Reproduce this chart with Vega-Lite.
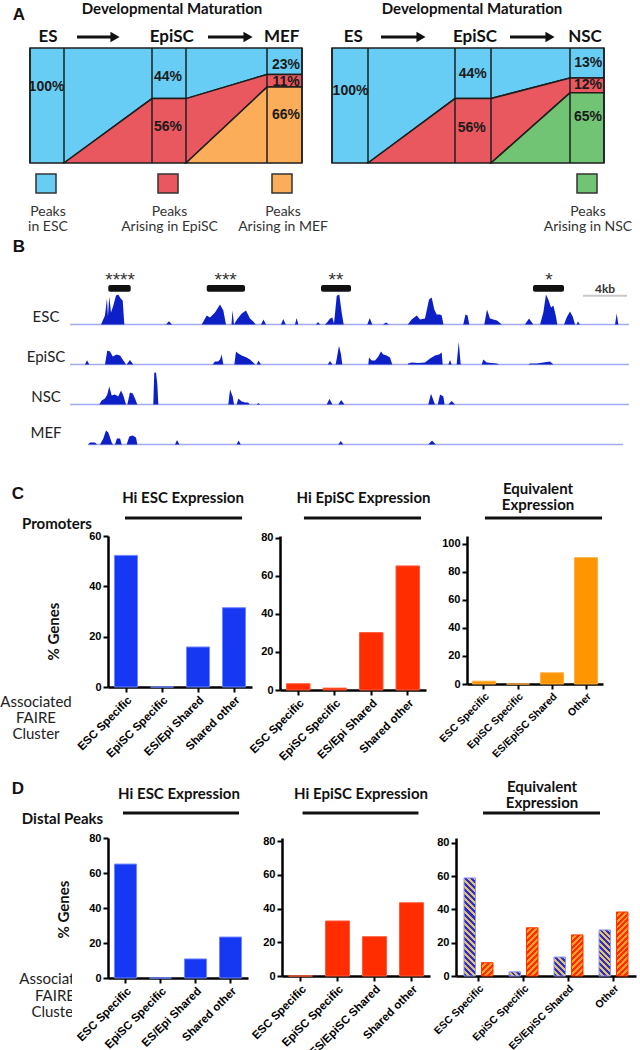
{
"$schema":"https://vega.github.io/schema/vega-lite/v6.json",
"padding":0,
"background":"white",
"spacing":0,
"config":{
 "view":{"stroke":null},
 "axis":{"grid":false,"domainColor":"#000","domainWidth":2.5,"tickColor":"#000","tickWidth":2,"tickSize":5,"labelFont":"Liberation Sans","labelFontWeight":"bold","labelFontSize":11,"labelColor":"#000","labelPadding":2,"titleFont":"Lato","titleFontWeight":"bold","titleFontSize":15,"titleColor":"#111"}
},
"datasets":{
 "bands":[
  {"d":"L","band":"ESC","x":0,"lo":0,"hi":100},{"d":"L","band":"ESC","x":34,"lo":0,"hi":100},{"d":"L","band":"ESC","x":122,"lo":56,"hi":100},{"d":"L","band":"ESC","x":156,"lo":56,"hi":100},{"d":"L","band":"ESC","x":237,"lo":77,"hi":100},{"d":"L","band":"ESC","x":272,"lo":77,"hi":100},
  {"d":"L","band":"EpiSC","x":34,"lo":0,"hi":0},{"d":"L","band":"EpiSC","x":122,"lo":0,"hi":56},{"d":"L","band":"EpiSC","x":156,"lo":0,"hi":56},{"d":"L","band":"EpiSC","x":237,"lo":66,"hi":77},{"d":"L","band":"EpiSC","x":272,"lo":66,"hi":77},
  {"d":"L","band":"MEF","x":156,"lo":0,"hi":0},{"d":"L","band":"MEF","x":237,"lo":0,"hi":66},{"d":"L","band":"MEF","x":272,"lo":0,"hi":66},
  {"d":"R","band":"ESC","x":0,"lo":0,"hi":100},{"d":"R","band":"ESC","x":36,"lo":0,"hi":100},{"d":"R","band":"ESC","x":123,"lo":56,"hi":100},{"d":"R","band":"ESC","x":159,"lo":56,"hi":100},{"d":"R","band":"ESC","x":238,"lo":74,"hi":100},{"d":"R","band":"ESC","x":272,"lo":74,"hi":100},
  {"d":"R","band":"EpiSC","x":36,"lo":0,"hi":0},{"d":"R","band":"EpiSC","x":123,"lo":0,"hi":56},{"d":"R","band":"EpiSC","x":159,"lo":0,"hi":56},{"d":"R","band":"EpiSC","x":238,"lo":61,"hi":74},{"d":"R","band":"EpiSC","x":272,"lo":61,"hi":74},
  {"d":"R","band":"NSC","x":159,"lo":0,"hi":0},{"d":"R","band":"NSC","x":238,"lo":0,"hi":61},{"d":"R","band":"NSC","x":272,"lo":0,"hi":61}
 ],
 "cols":[
  {"d":"L","x":0},{"d":"L","x":34},{"d":"L","x":122},{"d":"L","x":156},{"d":"L","x":237},{"d":"L","x":272},
  {"d":"R","x":0},{"d":"R","x":36},{"d":"R","x":123},{"d":"R","x":159},{"d":"R","x":238},{"d":"R","x":272}
 ],
 "pct":[
  {"d":"L","x":16.5,"y":66,"t":"100%"},{"d":"L","x":138,"y":75,"t":"44%"},{"d":"L","x":138,"y":31,"t":"56%"},{"d":"L","x":256,"y":85,"t":"23%"},{"d":"L","x":256,"y":70.5,"t":"11%"},{"d":"L","x":256,"y":42,"t":"66%"},
  {"d":"R","x":18.5,"y":63,"t":"100%"},{"d":"R","x":140.7,"y":77,"t":"44%"},{"d":"R","x":139.7,"y":30,"t":"56%"},{"d":"R","x":256.3,"y":87,"t":"13%"},{"d":"R","x":256,"y":67.5,"t":"12%"},{"d":"R","x":256,"y":40,"t":"65%"}
 ],
 "stages":[
  {"d":"L","x":18,"t":"ES"},{"d":"L","x":141.7,"t":"EpiSC"},{"d":"L","x":251.7,"t":"MEF"},
  {"d":"R","x":21.3,"t":"ES"},{"d":"R","x":143,"t":"EpiSC"},{"d":"R","x":253,"t":"NSC"}
 ],
 "arrows":[
  {"d":"L","x":47,"x2":85},{"d":"L","x":178,"x2":218},{"d":"R","x":49,"x2":89},{"d":"R","x":178,"x2":218}
 ],
 "leg":[
  {"d":"L","x":6,"x2":26,"c":18,"band":"ESC","t":"Peaks\nin ESC"},
  {"d":"L","x":128,"x2":148,"c":139.5,"band":"EpiSC","t":"Peaks\nArising in EpiSC"},
  {"d":"L","x":242,"x2":262,"c":253,"band":"MEF","t":"Peaks\nArising in MEF"},
  {"d":"R","x":245,"x2":265,"c":256,"band":"NSC","t":"Peaks\nArising in NSC"}
 ],
 "marks":[
  {"s":3.48,"e":5.52,"m":4.55,"stars":"****"},{"s":12.43,"e":15.91,"m":14.15,"stars":"***"},{"s":22.82,"e":25.55,"m":24.18,"stars":"**"},{"s":42.09,"e":44.91,"m":43.55,"stars":"*"}
 ],
 "scalebar":[{"s":46.64,"e":50.64,"m":48.64,"lab":"4kb"}],
 "trk":[
  {"t":"ESC","k":"b","p":0,"p2":50.82},{"t":"EpiSC","k":"b","p":0,"p2":50.82},{"t":"NSC","k":"b","p":0,"p2":50.82},{"t":"MEF","k":"b","p":1.64,"p2":50.27},
  {"t":"ESC","k":"s","p":2.82,"v":0},{"t":"ESC","k":"s","p":3.18,"v":9},{"t":"ESC","k":"s","p":3.36,"v":26},{"t":"ESC","k":"s","p":3.45,"v":8},{"t":"ESC","k":"s","p":3.57,"v":28},{"t":"ESC","k":"s","p":3.73,"v":12},{"t":"ESC","k":"s","p":3.94,"v":19},{"t":"ESC","k":"s","p":4.18,"v":29},{"t":"ESC","k":"s","p":4.39,"v":30},{"t":"ESC","k":"s","p":4.61,"v":26},{"t":"ESC","k":"s","p":4.79,"v":24},{"t":"ESC","k":"s","p":4.94,"v":0},
  {"t":"ESC","k":"s","p":8.73,"v":0},{"t":"ESC","k":"s","p":9.0,"v":3.3},{"t":"ESC","k":"s","p":9.27,"v":0},
  {"t":"ESC","k":"s","p":11.97,"v":0},{"t":"ESC","k":"s","p":12.43,"v":9},{"t":"ESC","k":"s","p":12.73,"v":7},{"t":"ESC","k":"s","p":13.18,"v":12},{"t":"ESC","k":"s","p":13.64,"v":20},{"t":"ESC","k":"s","p":13.94,"v":14},{"t":"ESC","k":"s","p":14.18,"v":0},{"t":"ESC","k":"s","p":14.68,"v":0},{"t":"ESC","k":"s","p":14.77,"v":14},{"t":"ESC","k":"s","p":14.91,"v":0},{"t":"ESC","k":"s","p":15.18,"v":5},{"t":"ESC","k":"s","p":15.61,"v":11},{"t":"ESC","k":"s","p":16.0,"v":14},{"t":"ESC","k":"s","p":16.36,"v":6},{"t":"ESC","k":"s","p":16.66,"v":3},{"t":"ESC","k":"s","p":16.88,"v":0},
  {"t":"ESC","k":"s","p":17.36,"v":0},{"t":"ESC","k":"s","p":17.59,"v":5},{"t":"ESC","k":"s","p":17.82,"v":0},{"t":"ESC","k":"s","p":19.18,"v":0},{"t":"ESC","k":"s","p":19.39,"v":5.5},{"t":"ESC","k":"s","p":19.61,"v":0},{"t":"ESC","k":"s","p":20.45,"v":0},{"t":"ESC","k":"s","p":20.61,"v":6.5},{"t":"ESC","k":"s","p":20.75,"v":0},{"t":"ESC","k":"s","p":22.36,"v":0},{"t":"ESC","k":"s","p":22.55,"v":2.5},{"t":"ESC","k":"s","p":22.73,"v":0},
  {"t":"ESC","k":"s","p":23.18,"v":0},{"t":"ESC","k":"s","p":23.36,"v":2},{"t":"ESC","k":"s","p":23.64,"v":6},{"t":"ESC","k":"s","p":23.85,"v":7},{"t":"ESC","k":"s","p":24.0,"v":1},{"t":"ESC","k":"s","p":24.25,"v":28.7},{"t":"ESC","k":"s","p":24.48,"v":30},{"t":"ESC","k":"s","p":24.7,"v":12},{"t":"ESC","k":"s","p":24.88,"v":0},
  {"t":"ESC","k":"s","p":27.03,"v":0},{"t":"ESC","k":"s","p":27.25,"v":6.5},{"t":"ESC","k":"s","p":27.48,"v":0},{"t":"ESC","k":"s","p":28.45,"v":0},{"t":"ESC","k":"s","p":28.73,"v":2},{"t":"ESC","k":"s","p":29.0,"v":0},
  {"t":"ESC","k":"s","p":30.7,"v":0},{"t":"ESC","k":"s","p":31.06,"v":5},{"t":"ESC","k":"s","p":31.52,"v":9},{"t":"ESC","k":"s","p":31.82,"v":5},{"t":"ESC","k":"s","p":32.27,"v":6},{"t":"ESC","k":"s","p":32.64,"v":25},{"t":"ESC","k":"s","p":32.88,"v":27},{"t":"ESC","k":"s","p":33.12,"v":15},{"t":"ESC","k":"s","p":33.34,"v":10},{"t":"ESC","k":"s","p":33.64,"v":10},{"t":"ESC","k":"s","p":33.79,"v":9},{"t":"ESC","k":"s","p":33.95,"v":0},
  {"t":"ESC","k":"s","p":35.75,"v":0},{"t":"ESC","k":"s","p":35.95,"v":10},{"t":"ESC","k":"s","p":36.14,"v":9},{"t":"ESC","k":"s","p":36.3,"v":0},{"t":"ESC","k":"s","p":37.66,"v":0},{"t":"ESC","k":"s","p":37.91,"v":15},{"t":"ESC","k":"s","p":38.18,"v":6},{"t":"ESC","k":"s","p":38.48,"v":5},{"t":"ESC","k":"s","p":38.82,"v":4},{"t":"ESC","k":"s","p":39.25,"v":0},{"t":"ESC","k":"s","p":41.36,"v":0},{"t":"ESC","k":"s","p":41.73,"v":6},{"t":"ESC","k":"s","p":42.12,"v":0},
  {"t":"ESC","k":"s","p":42.73,"v":0},{"t":"ESC","k":"s","p":43.03,"v":12},{"t":"ESC","k":"s","p":43.27,"v":30},{"t":"ESC","k":"s","p":43.48,"v":25},{"t":"ESC","k":"s","p":43.73,"v":17},{"t":"ESC","k":"s","p":43.94,"v":19},{"t":"ESC","k":"s","p":44.18,"v":8},{"t":"ESC","k":"s","p":44.3,"v":0},{"t":"ESC","k":"s","p":44.91,"v":0},{"t":"ESC","k":"s","p":45.15,"v":7},{"t":"ESC","k":"s","p":45.45,"v":13},{"t":"ESC","k":"s","p":45.7,"v":8},{"t":"ESC","k":"s","p":45.91,"v":0},{"t":"ESC","k":"s","p":46.06,"v":0},{"t":"ESC","k":"s","p":46.18,"v":3},{"t":"ESC","k":"s","p":46.36,"v":0},{"t":"ESC","k":"s","p":49.55,"v":0},{"t":"ESC","k":"s","p":49.7,"v":11},{"t":"ESC","k":"s","p":49.85,"v":0},
  {"t":"EpiSC","k":"s","p":1.36,"v":0},{"t":"EpiSC","k":"s","p":1.55,"v":4.3},{"t":"EpiSC","k":"s","p":1.75,"v":0},{"t":"EpiSC","k":"s","p":3.18,"v":0},{"t":"EpiSC","k":"s","p":3.39,"v":14},{"t":"EpiSC","k":"s","p":3.64,"v":13},{"t":"EpiSC","k":"s","p":3.88,"v":8},{"t":"EpiSC","k":"s","p":4.25,"v":10},{"t":"EpiSC","k":"s","p":4.55,"v":9},{"t":"EpiSC","k":"s","p":4.85,"v":4},{"t":"EpiSC","k":"s","p":5.09,"v":0},{"t":"EpiSC","k":"s","p":5.15,"v":0},{"t":"EpiSC","k":"s","p":5.45,"v":4.5},{"t":"EpiSC","k":"s","p":5.75,"v":0},
  {"t":"EpiSC","k":"s","p":12.97,"v":0},{"t":"EpiSC","k":"s","p":13.18,"v":3},{"t":"EpiSC","k":"s","p":13.45,"v":3},{"t":"EpiSC","k":"s","p":13.64,"v":5},{"t":"EpiSC","k":"s","p":13.79,"v":10},{"t":"EpiSC","k":"s","p":13.94,"v":0},{"t":"EpiSC","k":"s","p":14.94,"v":0},{"t":"EpiSC","k":"s","p":15.09,"v":13},{"t":"EpiSC","k":"s","p":15.3,"v":11},{"t":"EpiSC","k":"s","p":15.61,"v":9},{"t":"EpiSC","k":"s","p":16.06,"v":7},{"t":"EpiSC","k":"s","p":16.36,"v":5},{"t":"EpiSC","k":"s","p":16.66,"v":2},{"t":"EpiSC","k":"s","p":16.82,"v":0},{"t":"EpiSC","k":"s","p":16.97,"v":0},{"t":"EpiSC","k":"s","p":17.14,"v":4},{"t":"EpiSC","k":"s","p":17.36,"v":0},
  {"t":"EpiSC","k":"s","p":23.43,"v":0},{"t":"EpiSC","k":"s","p":23.64,"v":3.5},{"t":"EpiSC","k":"s","p":23.85,"v":0},{"t":"EpiSC","k":"s","p":24.15,"v":0},{"t":"EpiSC","k":"s","p":24.25,"v":6},{"t":"EpiSC","k":"s","p":24.45,"v":18.7},{"t":"EpiSC","k":"s","p":24.64,"v":10},{"t":"EpiSC","k":"s","p":24.75,"v":0},
  {"t":"EpiSC","k":"s","p":27.12,"v":0},{"t":"EpiSC","k":"s","p":27.18,"v":7},{"t":"EpiSC","k":"s","p":27.43,"v":4},{"t":"EpiSC","k":"s","p":27.73,"v":4},{"t":"EpiSC","k":"s","p":28.03,"v":8},{"t":"EpiSC","k":"s","p":28.27,"v":13},{"t":"EpiSC","k":"s","p":28.48,"v":10},{"t":"EpiSC","k":"s","p":28.79,"v":9},{"t":"EpiSC","k":"s","p":29.09,"v":7},{"t":"EpiSC","k":"s","p":29.3,"v":0},
  {"t":"EpiSC","k":"s","p":30.7,"v":0},{"t":"EpiSC","k":"s","p":30.75,"v":1},{"t":"EpiSC","k":"s","p":31.06,"v":2},{"t":"EpiSC","k":"s","p":31.66,"v":1.5},{"t":"EpiSC","k":"s","p":32.27,"v":2},{"t":"EpiSC","k":"s","p":32.73,"v":6},{"t":"EpiSC","k":"s","p":33.18,"v":9},{"t":"EpiSC","k":"s","p":33.55,"v":10},{"t":"EpiSC","k":"s","p":33.79,"v":12},{"t":"EpiSC","k":"s","p":33.88,"v":0},
  {"t":"EpiSC","k":"s","p":34.39,"v":0},{"t":"EpiSC","k":"s","p":34.55,"v":4.5},{"t":"EpiSC","k":"s","p":34.7,"v":0},{"t":"EpiSC","k":"s","p":35.15,"v":0},{"t":"EpiSC","k":"s","p":35.34,"v":22.7},{"t":"EpiSC","k":"s","p":35.52,"v":0},{"t":"EpiSC","k":"s","p":37.43,"v":0},{"t":"EpiSC","k":"s","p":37.57,"v":5},{"t":"EpiSC","k":"s","p":37.88,"v":2},{"t":"EpiSC","k":"s","p":38.79,"v":1},{"t":"EpiSC","k":"s","p":39.03,"v":0},{"t":"EpiSC","k":"s","p":41.66,"v":0},{"t":"EpiSC","k":"s","p":41.82,"v":1},{"t":"EpiSC","k":"s","p":42.43,"v":1},{"t":"EpiSC","k":"s","p":43.03,"v":2},{"t":"EpiSC","k":"s","p":43.64,"v":3},{"t":"EpiSC","k":"s","p":43.94,"v":0},
  {"t":"NSC","k":"s","p":2.66,"v":0},{"t":"NSC","k":"s","p":2.88,"v":4},{"t":"NSC","k":"s","p":3.18,"v":6},{"t":"NSC","k":"s","p":3.39,"v":10},{"t":"NSC","k":"s","p":3.57,"v":18},{"t":"NSC","k":"s","p":3.79,"v":9},{"t":"NSC","k":"s","p":4.09,"v":10},{"t":"NSC","k":"s","p":4.39,"v":8},{"t":"NSC","k":"s","p":4.64,"v":14},{"t":"NSC","k":"s","p":4.85,"v":9},{"t":"NSC","k":"s","p":5.09,"v":0},{"t":"NSC","k":"s","p":5.21,"v":0},{"t":"NSC","k":"s","p":5.45,"v":12},{"t":"NSC","k":"s","p":5.7,"v":11},{"t":"NSC","k":"s","p":5.91,"v":6},{"t":"NSC","k":"s","p":6.12,"v":0},
  {"t":"NSC","k":"s","p":7.57,"v":0},{"t":"NSC","k":"s","p":7.66,"v":31.7},{"t":"NSC","k":"s","p":7.82,"v":32},{"t":"NSC","k":"s","p":7.94,"v":20},{"t":"NSC","k":"s","p":8.03,"v":0},
  {"t":"NSC","k":"s","p":14.39,"v":0},{"t":"NSC","k":"s","p":14.55,"v":15},{"t":"NSC","k":"s","p":14.79,"v":8},{"t":"NSC","k":"s","p":14.91,"v":0},{"t":"NSC","k":"s","p":15.15,"v":0},{"t":"NSC","k":"s","p":15.3,"v":6},{"t":"NSC","k":"s","p":15.61,"v":3},{"t":"NSC","k":"s","p":15.91,"v":2},{"t":"NSC","k":"s","p":16.18,"v":2},{"t":"NSC","k":"s","p":16.36,"v":0},{"t":"NSC","k":"s","p":16.97,"v":0},{"t":"NSC","k":"s","p":17.12,"v":1.5},{"t":"NSC","k":"s","p":17.27,"v":0},
  {"t":"NSC","k":"s","p":23.34,"v":0},{"t":"NSC","k":"s","p":23.59,"v":5.7},{"t":"NSC","k":"s","p":23.85,"v":0},{"t":"NSC","k":"s","p":24.39,"v":0},{"t":"NSC","k":"s","p":24.66,"v":4.5},{"t":"NSC","k":"s","p":24.94,"v":0},
  {"t":"NSC","k":"s","p":32.57,"v":0},{"t":"NSC","k":"s","p":32.82,"v":10.7},{"t":"NSC","k":"s","p":33.18,"v":0},{"t":"NSC","k":"s","p":33.43,"v":0},{"t":"NSC","k":"s","p":33.64,"v":10},{"t":"NSC","k":"s","p":33.94,"v":8},{"t":"NSC","k":"s","p":34.05,"v":0},{"t":"NSC","k":"s","p":34.39,"v":0},{"t":"NSC","k":"s","p":34.7,"v":3.5},{"t":"NSC","k":"s","p":35.0,"v":0},
  {"t":"MEF","k":"s","p":1.66,"v":0},{"t":"MEF","k":"s","p":1.82,"v":2},{"t":"MEF","k":"s","p":2.27,"v":2},{"t":"MEF","k":"s","p":2.45,"v":0},{"t":"MEF","k":"s","p":2.73,"v":0},{"t":"MEF","k":"s","p":3.03,"v":6},{"t":"MEF","k":"s","p":3.27,"v":14},{"t":"MEF","k":"s","p":3.48,"v":12},{"t":"MEF","k":"s","p":3.79,"v":2},{"t":"MEF","k":"s","p":3.91,"v":0},{"t":"MEF","k":"s","p":4.09,"v":0},{"t":"MEF","k":"s","p":4.27,"v":6},{"t":"MEF","k":"s","p":4.55,"v":6},{"t":"MEF","k":"s","p":4.7,"v":0},{"t":"MEF","k":"s","p":5.15,"v":0},{"t":"MEF","k":"s","p":5.39,"v":8},{"t":"MEF","k":"s","p":5.7,"v":9},{"t":"MEF","k":"s","p":6.0,"v":7},{"t":"MEF","k":"s","p":6.12,"v":0},
  {"t":"MEF","k":"s","p":9.55,"v":0},{"t":"MEF","k":"s","p":9.73,"v":4.5},{"t":"MEF","k":"s","p":9.94,"v":0},{"t":"MEF","k":"s","p":15.15,"v":0},{"t":"MEF","k":"s","p":15.33,"v":4},{"t":"MEF","k":"s","p":15.52,"v":0},{"t":"MEF","k":"s","p":24.39,"v":0},{"t":"MEF","k":"s","p":24.62,"v":3.5},{"t":"MEF","k":"s","p":24.84,"v":0},{"t":"MEF","k":"s","p":32.57,"v":0},{"t":"MEF","k":"s","p":32.91,"v":4},{"t":"MEF","k":"s","p":33.25,"v":0}
 ]
},
"vconcat":[
 {"hconcat":[
  {"width":320,"height":236,"layer":[
   {"data":{"name":"bands"},"transform":[{"filter":"datum.d==='L'"}],"mark":{"type":"area","orient":"vertical","stroke":"#1e1e1e","strokeWidth":1.5,"opacity":1},
    "encoding":{"x":{"field":"x","type":"quantitative","scale":{"domain":[-30,290],"nice":false,"zero":false},"axis":null},
     "y":{"field":"lo","type":"quantitative","stack":null,"scale":{"domain":[-63.48,141.74],"nice":false,"zero":false},"axis":null},
     "y2":{"field":"hi"},
     "fill":{"field":"band","type":"nominal","scale":{"domain":["ESC","EpiSC","MEF","NSC"],"range":["#67cdf5","#e9585f","#fbad59","#70c473"]},"legend":null}}},
   {"data":{"name":"cols"},"transform":[{"filter":"datum.d==='L'"}],"mark":{"type":"rule","stroke":"#1e1e1e","strokeWidth":1.5},"encoding":{"x":{"field":"x","type":"quantitative"},"y":{"datum":0},"y2":{"datum":100}}},
   {"data":{"name":"pct"},"transform":[{"filter":"datum.d==='L'"}],"mark":{"type":"text","font":"Liberation Sans","fontWeight":"bold","fontSize":14,"fill":"#1a1a1a"},"encoding":{"x":{"field":"x","type":"quantitative"},"y":{"field":"y","type":"quantitative"},"text":{"field":"t"}}},
   {"data":{"name":"stages"},"transform":[{"filter":"datum.d==='L'"}],"mark":{"type":"text","font":"Lato","fontWeight":"bold","fontSize":17,"fill":"#111"},"encoding":{"x":{"field":"x","type":"quantitative"},"y":{"datum":109.6},"text":{"field":"t"}}},
   {"data":{"name":"arrows"},"transform":[{"filter":"datum.d==='L'"}],"mark":{"type":"rule","stroke":"#111","strokeWidth":3},"encoding":{"x":{"field":"x","type":"quantitative"},"x2":{"field":"x2"},"y":{"datum":109.6}}},
   {"data":{"name":"arrows"},"transform":[{"filter":"datum.d==='L'"}],"mark":{"type":"point","shape":"triangle-right","filled":true,"size":110,"fill":"#111","opacity":1,"strokeWidth":0},"encoding":{"x":{"field":"x2","type":"quantitative"},"y":{"datum":109.6}}},
   {"data":{"name":"leg"},"transform":[{"filter":"datum.d==='L'"}],"mark":{"type":"rect","stroke":"#333","strokeWidth":1.5},"encoding":{"x":{"field":"x","type":"quantitative"},"x2":{"field":"x2"},"y":{"datum":-9.6},"y2":{"datum":-26.1},"fill":{"field":"band","type":"nominal","legend":null}}},
   {"data":{"name":"leg"},"transform":[{"filter":"datum.d==='L'"}],"mark":{"type":"text","font":"Lato","fontSize":14,"fill":"#333","lineBreak":"\n","lineHeight":15},"encoding":{"x":{"field":"c","type":"quantitative"},"y":{"datum":-42.6},"text":{"field":"t"}}},
   {"data":{"values":[{}]},"mark":{"type":"text","font":"Lato","fontWeight":"bold","fontSize":15,"fill":"#111"},"encoding":{"x":{"datum":142},"y":{"datum":134.3},"text":{"value":"Developmental Maturation"}}},
   {"data":{"values":[{}]},"mark":{"type":"text","font":"Liberation Sans","fontWeight":"bold","fontSize":17,"fill":"#111"},"encoding":{"x":{"datum":-11},"y":{"datum":128.7},"text":{"value":"A"}}}
  ]},
  {"width":320,"height":236,"layer":[
   {"data":{"name":"bands"},"transform":[{"filter":"datum.d==='R'"}],"mark":{"type":"area","orient":"vertical","stroke":"#1e1e1e","strokeWidth":1.5,"opacity":1},
    "encoding":{"x":{"field":"x","type":"quantitative","scale":{"domain":[-12,308],"nice":false,"zero":false},"axis":null},
     "y":{"field":"lo","type":"quantitative","stack":null,"scale":{"domain":[-63.48,141.74],"nice":false,"zero":false},"axis":null},
     "y2":{"field":"hi"},
     "fill":{"field":"band","type":"nominal","scale":{"domain":["ESC","EpiSC","MEF","NSC"],"range":["#67cdf5","#e9585f","#fbad59","#70c473"]},"legend":null}}},
   {"data":{"name":"cols"},"transform":[{"filter":"datum.d==='R'"}],"mark":{"type":"rule","stroke":"#1e1e1e","strokeWidth":1.5},"encoding":{"x":{"field":"x","type":"quantitative"},"y":{"datum":0},"y2":{"datum":100}}},
   {"data":{"name":"pct"},"transform":[{"filter":"datum.d==='R'"}],"mark":{"type":"text","font":"Liberation Sans","fontWeight":"bold","fontSize":14,"fill":"#1a1a1a"},"encoding":{"x":{"field":"x","type":"quantitative"},"y":{"field":"y","type":"quantitative"},"text":{"field":"t"}}},
   {"data":{"name":"stages"},"transform":[{"filter":"datum.d==='R'"}],"mark":{"type":"text","font":"Lato","fontWeight":"bold","fontSize":17,"fill":"#111"},"encoding":{"x":{"field":"x","type":"quantitative"},"y":{"datum":109.6},"text":{"field":"t"}}},
   {"data":{"name":"arrows"},"transform":[{"filter":"datum.d==='R'"}],"mark":{"type":"rule","stroke":"#111","strokeWidth":3},"encoding":{"x":{"field":"x","type":"quantitative"},"x2":{"field":"x2"},"y":{"datum":109.6}}},
   {"data":{"name":"arrows"},"transform":[{"filter":"datum.d==='R'"}],"mark":{"type":"point","shape":"triangle-right","filled":true,"size":110,"fill":"#111","opacity":1,"strokeWidth":0},"encoding":{"x":{"field":"x2","type":"quantitative"},"y":{"datum":109.6}}},
   {"data":{"name":"leg"},"transform":[{"filter":"datum.d==='R'"}],"mark":{"type":"rect","stroke":"#333","strokeWidth":1.5},"encoding":{"x":{"field":"x","type":"quantitative"},"x2":{"field":"x2"},"y":{"datum":-9.6},"y2":{"datum":-26.1},"fill":{"field":"band","type":"nominal","legend":null}}},
   {"data":{"name":"leg"},"transform":[{"filter":"datum.d==='R'"}],"mark":{"type":"text","font":"Lato","fontSize":14,"fill":"#333","lineBreak":"\n","lineHeight":15},"encoding":{"x":{"field":"c","type":"quantitative"},"y":{"datum":-42.6},"text":{"field":"t"}}},
   {"data":{"values":[{}]},"mark":{"type":"text","font":"Lato","fontWeight":"bold","fontSize":15,"fill":"#111"},"encoding":{"x":{"datum":140},"y":{"datum":134.3},"text":{"value":"Developmental Maturation"}}}
  ]}
 ],"spacing":0,"bounds":"flush"},

 {"width":640,"height":208.5,"layer":[
  {"layer":[
   {"data":{"name":"marks"},"mark":{"type":"rect","fill":"#111","cornerRadius":2},"encoding":{"x":{"field":"s","type":"quantitative","scale":{"domain":[-6.3636,51.818],"nice":false,"zero":false},"axis":null},"x2":{"field":"e"},"y":{"datum":-0.5,"type":"quantitative","scale":{"domain":[-160,48.5],"nice":false,"zero":false},"axis":null},"y2":{"datum":-7.2}}},
   {"data":{"name":"marks"},"mark":{"type":"text","font":"Liberation Sans","fontSize":19,"fill":"#333","baseline":"alphabetic"},"encoding":{"x":{"field":"m","type":"quantitative","scale":{"domain":[-6.3636,51.818],"nice":false,"zero":false}},"y":{"datum":-1.5},"text":{"field":"stars"}}},
   {"data":{"name":"scalebar"},"mark":{"type":"rule","stroke":"#c8c8c8","strokeWidth":2},"encoding":{"x":{"field":"s","type":"quantitative","scale":{"domain":[-6.3636,51.818],"nice":false,"zero":false}},"x2":{"field":"e"},"y":{"datum":-11.2}}},
   {"data":{"name":"scalebar"},"mark":{"type":"text","font":"Lato","fontWeight":"bold","fontSize":12,"fill":"#333"},"encoding":{"x":{"field":"m","type":"quantitative","scale":{"domain":[-6.3636,51.818],"nice":false,"zero":false}},"y":{"datum":-4.5},"text":{"field":"lab"}}},
   {"data":{"values":[{}]},"mark":{"type":"text","font":"Liberation Sans","fontWeight":"bold","fontSize":17,"fill":"#111"},"encoding":{"x":{"datum":-4.64},"y":{"datum":37.5},"text":{"value":"B"}}}
  ]},
  {"data":{"name":"trk"},"transform":[{"filter":"datum.t==='ESC'"}],"layer":[
   {"transform":[{"filter":"datum.k==='b'"}],"mark":{"type":"rule","stroke":"#a3acf2","strokeWidth":1.5},"encoding":{"x":{"field":"p","type":"quantitative","scale":{"domain":[-6.3636,51.818],"nice":false,"zero":false}},"x2":{"field":"p2"},"y":{"datum":0,"type":"quantitative","scale":{"domain":[-120,88.5],"nice":false,"zero":false},"axis":null}}},
   {"transform":[{"filter":"datum.k==='s'"}],"mark":{"type":"area","color":"#0d1fc7","opacity":1},"encoding":{"x":{"field":"p","type":"quantitative","scale":{"domain":[-6.3636,51.818],"nice":false,"zero":false}},"y":{"field":"v","type":"quantitative"}}},
   {"transform":[{"filter":"datum.k==='b'"}],"mark":{"type":"text","font":"Lato","fontSize":15,"fill":"#222","align":"center"},"encoding":{"x":{"datum":-2.18},"y":{"datum":8},"text":{"field":"t"}}}
  ]},
  {"data":{"name":"trk"},"transform":[{"filter":"datum.t==='EpiSC'"}],"layer":[
   {"transform":[{"filter":"datum.k==='b'"}],"mark":{"type":"rule","stroke":"#a3acf2","strokeWidth":1.5},"encoding":{"x":{"field":"p","type":"quantitative","scale":{"domain":[-6.3636,51.818],"nice":false,"zero":false}},"x2":{"field":"p2"},"y":{"datum":0,"type":"quantitative","scale":{"domain":[-80,128.5],"nice":false,"zero":false},"axis":null}}},
   {"transform":[{"filter":"datum.k==='s'"}],"mark":{"type":"area","color":"#0d1fc7","opacity":1},"encoding":{"x":{"field":"p","type":"quantitative","scale":{"domain":[-6.3636,51.818],"nice":false,"zero":false}},"y":{"field":"v","type":"quantitative"}}},
   {"transform":[{"filter":"datum.k==='b'"}],"mark":{"type":"text","font":"Lato","fontSize":15,"fill":"#222","align":"center"},"encoding":{"x":{"datum":-2.18},"y":{"datum":8},"text":{"field":"t"}}}
  ]},
  {"data":{"name":"trk"},"transform":[{"filter":"datum.t==='NSC'"}],"layer":[
   {"transform":[{"filter":"datum.k==='b'"}],"mark":{"type":"rule","stroke":"#a3acf2","strokeWidth":1.5},"encoding":{"x":{"field":"p","type":"quantitative","scale":{"domain":[-6.3636,51.818],"nice":false,"zero":false}},"x2":{"field":"p2"},"y":{"datum":0,"type":"quantitative","scale":{"domain":[-40,168.5],"nice":false,"zero":false},"axis":null}}},
   {"transform":[{"filter":"datum.k==='s'"}],"mark":{"type":"area","color":"#0d1fc7","opacity":1},"encoding":{"x":{"field":"p","type":"quantitative","scale":{"domain":[-6.3636,51.818],"nice":false,"zero":false}},"y":{"field":"v","type":"quantitative"}}},
   {"transform":[{"filter":"datum.k==='b'"}],"mark":{"type":"text","font":"Lato","fontSize":15,"fill":"#222","align":"center"},"encoding":{"x":{"datum":-2.18},"y":{"datum":8},"text":{"field":"t"}}}
  ]},
  {"data":{"name":"trk"},"transform":[{"filter":"datum.t==='MEF'"}],"layer":[
   {"transform":[{"filter":"datum.k==='b'"}],"mark":{"type":"rule","stroke":"#a3acf2","strokeWidth":1.5},"encoding":{"x":{"field":"p","type":"quantitative","scale":{"domain":[-6.3636,51.818],"nice":false,"zero":false}},"x2":{"field":"p2"},"y":{"datum":0,"type":"quantitative","scale":{"domain":[0,208.5],"nice":false,"zero":false},"axis":null}}},
   {"transform":[{"filter":"datum.k==='s'"}],"mark":{"type":"area","color":"#0d1fc7","opacity":1},"encoding":{"x":{"field":"p","type":"quantitative","scale":{"domain":[-6.3636,51.818],"nice":false,"zero":false}},"y":{"field":"v","type":"quantitative"}}},
   {"transform":[{"filter":"datum.k==='b'"}],"mark":{"type":"text","font":"Lato","fontSize":15,"fill":"#222","align":"center"},"encoding":{"x":{"datum":-2.18},"y":{"datum":12},"text":{"field":"t"}}}
  ]}
 ],"resolve":{"scale":{"y":"independent"}},"encoding":{"x":{"axis":null}}},

 {"width":1,"height":25,"data":{"values":[]},"mark":"text"},

 {"hconcat":[
  {"width":108,"height":151,"data":{"values":[{}]},"layer":[
   {"mark":{"type":"rule","strokeOpacity":0},"encoding":{"x":{"datum":50,"type":"quantitative","scale":{"domain":[0,108],"nice":false,"zero":false},"axis":null},"y":{"datum":-65,"type":"quantitative","scale":{"domain":[0,151],"reverse":true,"nice":false,"zero":false},"axis":null},"y2":{"datum":242}}},
   {"mark":{"type":"text","font":"Liberation Sans","fontWeight":"bold","fontSize":17,"fill":"#111"},"encoding":{"x":{"datum":18},"y":{"datum":-42},"text":{"value":"C"}}},
   {"mark":{"type":"text","font":"Lato","fontWeight":"bold","fontSize":15,"fill":"#111"},"encoding":{"x":{"datum":57},"y":{"datum":-12},"text":{"value":"Promoters"}}},
   {"mark":{"type":"text","font":"Lato","fontSize":15,"fill":"#222","lineBreak":"\n","lineHeight":16},"encoding":{"x":{"datum":36},"y":{"datum":166},"text":{"value":"Associated\nFAIRE\nCluster"}}}
  ]},
  {"width":144,"height":151,"layer":[
   {"data":{"values":[{"c":"ESC Specific","v":52.3},{"c":"EpiSC Specific","v":0},{"c":"ES/Epi Shared","v":15.9},{"c":"Shared other","v":31.5}]},
    "mark":{"type":"bar","fill":"#1638f2","stroke":"#6f88ff","strokeWidth":1},
    "encoding":{"x":{"field":"c","type":"nominal","sort":null,"scale":{"paddingInner":0.36,"paddingOuter":0.18},"axis":{"title":null,"labelAngle":-45,"labelFontSize":11.5}},
     "y":{"field":"v","type":"quantitative","scale":{"domain":[0,60],"nice":false},"axis":{"title":"% Genes","values":[0,20,40,60],"titleX":-55,"titleY":95,"titleAngle":-90,"titleAlign":"center","titleBaseline":"middle"}}}},
   {"data":{"values":[{}]},"layer":[
    {"mark":{"type":"rule","stroke":"#111","strokeWidth":3},"encoding":{"x":{"datum":0.118,"type":"quantitative","scale":{"domain":[0,1],"nice":false},"axis":null},"x2":{"datum":0.931},"y":{"datum":1.119,"type":"quantitative","scale":{"domain":[0,1],"nice":false},"axis":null}}},
    {"mark":{"type":"text","font":"Lato","fontWeight":"bold","fontSize":15,"fill":"#111"},"encoding":{"x":{"datum":0.521},"y":{"datum":1.2517},"text":{"value":"Hi ESC Expression"}}}
   ]}
  ],"resolve":{"scale":{"x":"independent","y":"independent"}}},
  {"width":28,"height":1,"data":{"values":[]},"mark":"text"},
  {"width":146,"height":154,"layer":[
   {"data":{"values":[{"c":"ESC Specific","v":3.3},{"c":"EpiSC Specific","v":1},{"c":"ES/Epi Shared","v":30.2},{"c":"Shared other","v":65.3}]},
    "mark":{"type":"bar","fill":"#ff2d00","stroke":"#ff5a3a","strokeWidth":1},
    "encoding":{"x":{"field":"c","type":"nominal","sort":null,"scale":{"paddingInner":0.356,"paddingOuter":0.178},"axis":{"title":null,"labelAngle":-45,"labelFontSize":11.5}},
     "y":{"field":"v","type":"quantitative","scale":{"domain":[0,81.05],"nice":false},"axis":{"title":null,"values":[0,20,40,60,80]}}}},
   {"data":{"values":[{}]},"layer":[
    {"mark":{"type":"rule","stroke":"#111","strokeWidth":3},"encoding":{"x":{"datum":0.164,"type":"quantitative","scale":{"domain":[0,1],"nice":false},"axis":null},"x2":{"datum":0.966},"y":{"datum":1.1169,"type":"quantitative","scale":{"domain":[0,1],"nice":false},"axis":null}}},
    {"mark":{"type":"text","font":"Lato","fontWeight":"bold","fontSize":15,"fill":"#111"},"encoding":{"x":{"datum":0.572},"y":{"datum":1.2468},"text":{"value":"Hi EpiSC Expression"}}}
   ]}
  ],"resolve":{"scale":{"x":"independent","y":"independent"}}},
  {"width":41,"height":1,"data":{"values":[]},"mark":"text"},
  {"width":136,"height":148,"layer":[
   {"data":{"values":[{"c":"ESC Specific","v":2},{"c":"EpiSC Specific","v":0},{"c":"ES/EpiSC Shared","v":8},{"c":"Other","v":90.2}]},
    "mark":{"type":"bar","fill":"#ff9500","stroke":"#ffae40","strokeWidth":1},
    "encoding":{"x":{"field":"c","type":"nominal","sort":null,"scale":{"paddingInner":0.32,"paddingOuter":0.16},"axis":{"title":null,"labelAngle":-45,"labelFontSize":10.5}},
     "y":{"field":"v","type":"quantitative","scale":{"domain":[0,105.7],"nice":false},"axis":{"title":null,"values":[0,20,40,60,80,100]}}}},
   {"data":{"values":[{}]},"layer":[
    {"mark":{"type":"rule","stroke":"#111","strokeWidth":3},"encoding":{"x":{"datum":0.132,"type":"quantitative","scale":{"domain":[0,1],"nice":false},"axis":null},"x2":{"datum":0.993},"y":{"datum":1.1216,"type":"quantitative","scale":{"domain":[0,1],"nice":false},"axis":null}}},
    {"mark":{"type":"text","font":"Lato","fontWeight":"bold","fontSize":15,"fill":"#111","lineBreak":"\n","lineHeight":16},"encoding":{"x":{"datum":0.522},"y":{"datum":1.3176},"text":{"value":"Equivalent\nExpression"}}}
   ]}
  ],"resolve":{"scale":{"x":"independent","y":"independent"}}}
 ],"spacing":0,"bounds":"flush"},

 {"hconcat":[
  {"width":72,"height":190,"data":{"values":[{}]},"layer":[
   {"mark":{"type":"rule","strokeOpacity":0},"encoding":{"x":{"datum":30,"type":"quantitative","scale":{"domain":[0,72],"nice":false,"zero":false},"axis":null},"y":{"datum":-60,"type":"quantitative","scale":{"domain":[0,190],"reverse":true,"nice":false,"zero":false},"axis":null},"y2":{"datum":0}}},
   {"mark":{"type":"text","font":"Liberation Sans","fontWeight":"bold","fontSize":17,"fill":"#111"},"encoding":{"x":{"datum":18},"y":{"datum":-49},"text":{"value":"D"}}},
   {"mark":{"type":"text","font":"Lato","fontWeight":"bold","fontSize":15,"fill":"#111"},"encoding":{"x":{"datum":62.5},"y":{"datum":-19},"text":{"value":"Distal Peaks"}}},
   {"mark":{"type":"text","font":"Lato","fontSize":15,"fill":"#222","lineBreak":"\n","lineHeight":16.5,"clip":true},"encoding":{"x":{"datum":55},"y":{"datum":141},"text":{"value":"Associated\nFAIRE\nCluster"}}}
  ]},
  {"width":36,"height":1,"data":{"values":[]},"mark":"text"},
  {"width":140,"height":140,"layer":[
   {"data":{"values":[{"c":"ESC Specific","v":65.1},{"c":"EpiSC Specific","v":0},{"c":"ES/Epi Shared","v":10.9},{"c":"Shared other","v":23.4}]},
    "mark":{"type":"bar","fill":"#1638f2","stroke":"#6f88ff","strokeWidth":1},
    "encoding":{"x":{"field":"c","type":"nominal","sort":null,"scale":{"paddingInner":0.37,"paddingOuter":0.185},"axis":{"title":null,"labelAngle":-45,"labelFontSize":11.5}},
     "y":{"field":"v","type":"quantitative","scale":{"domain":[0,80],"nice":false},"axis":{"title":"% Genes","values":[0,20,40,60,80],"titleX":-45,"titleY":71,"titleAngle":-90,"titleAlign":"center","titleBaseline":"middle"}}}},
   {"data":{"values":[{}]},"layer":[
    {"mark":{"type":"rule","stroke":"#111","strokeWidth":3},"encoding":{"x":{"datum":0.107,"type":"quantitative","scale":{"domain":[0,1],"nice":false},"axis":null},"x2":{"datum":0.936},"y":{"datum":1.179,"type":"quantitative","scale":{"domain":[0,1],"nice":false},"axis":null}}},
    {"mark":{"type":"text","font":"Lato","fontWeight":"bold","fontSize":15,"fill":"#111"},"encoding":{"x":{"datum":0.507},"y":{"datum":1.314},"text":{"value":"Hi ESC Expression"}}}
   ]}
  ],"resolve":{"scale":{"x":"independent","y":"independent"}}},
  {"width":33.5,"height":1,"data":{"values":[]},"mark":"text"},
  {"width":148,"height":138,"layer":[
   {"data":{"values":[{"c":"ESC Specific","v":0},{"c":"EpiSC Specific","v":32.6},{"c":"ES/EpiSC Shared","v":23.3},{"c":"Shared other","v":43.4}]},
    "mark":{"type":"bar","fill":"#ff2d00","stroke":"#ff5a3a","strokeWidth":1},
    "encoding":{"x":{"field":"c","type":"nominal","sort":null,"scale":{"paddingInner":0.35,"paddingOuter":0.175},"axis":{"title":null,"labelAngle":-45,"labelFontSize":11.5}},
     "y":{"field":"v","type":"quantitative","scale":{"domain":[0,81.78],"nice":false},"axis":{"title":null,"values":[0,20,40,60,80]}}}},
   {"data":{"values":[{}]},"layer":[
    {"mark":{"type":"rule","stroke":"#111","strokeWidth":3},"encoding":{"x":{"datum":0.139,"type":"quantitative","scale":{"domain":[0,1],"nice":false},"axis":null},"x2":{"datum":0.922},"y":{"datum":1.1812,"type":"quantitative","scale":{"domain":[0,1],"nice":false},"axis":null}}},
    {"mark":{"type":"text","font":"Lato","fontWeight":"bold","fontSize":15,"fill":"#111"},"encoding":{"x":{"datum":0.534},"y":{"datum":1.3188},"text":{"value":"Hi EpiSC Expression"}}}
   ]}
  ],"resolve":{"scale":{"x":"independent","y":"independent"}}},
  {"width":25.5,"height":1,"data":{"values":[]},"mark":"text"},
  {"width":180,"height":138,"layer":[
   {"data":{"values":[{"c":"ESC Specific","s":"a","v":59},{"c":"ESC Specific","s":"b","v":8},{"c":"EpiSC Specific","s":"a","v":2.5},{"c":"EpiSC Specific","s":"b","v":29},{"c":"ES/EpiSC Shared","s":"a","v":11.4},{"c":"ES/EpiSC Shared","s":"b","v":24.7},{"c":"Other","s":"a","v":27.7},{"c":"Other","s":"b","v":38.5}]},
    "mark":{"type":"bar","strokeWidth":1},
    "encoding":{"x":{"field":"c","type":"nominal","sort":null,"scale":{"domain":["ESC Specific","EpiSC Specific","ES/EpiSC Shared","Other"],"paddingInner":0.356,"paddingOuter":0.178},"axis":{"title":null,"labelAngle":-45,"labelFontSize":10.5}},
     "xOffset":{"field":"s","type":"nominal","scale":{"domain":["a","b"],"paddingInner":0.343,"paddingOuter":0}},
     "y":{"field":"v","type":"quantitative","scale":{"domain":[0,83],"nice":false},"axis":{"title":null,"values":[0,20,40,60,80]}},
     "stroke":{"field":"s","type":"nominal","scale":{"domain":["a","b"],"range":["#8a94ff","#ff3300"]},"legend":null},
     "fill":{"condition":[
      {"test":"datum.s==='a' && datum.c==='ESC Specific'","value":{"gradient":"linear","x1":0,"y1":1,"x2":0.1292,"y2":-0.1018,"stops":[
{"offset":0,"color":"#2d2dd2"},{"offset":0.0278,"color":"#2d2dd2"},{"offset":0.0278,"color":"#e5c35c"},{"offset":0.0556,"color":"#e5c35c"},
{"offset":0.0556,"color":"#2d2dd2"},{"offset":0.0833,"color":"#2d2dd2"},{"offset":0.0833,"color":"#e5c35c"},{"offset":0.1111,"color":"#e5c35c"},
{"offset":0.1111,"color":"#2d2dd2"},{"offset":0.1389,"color":"#2d2dd2"},{"offset":0.1389,"color":"#e5c35c"},{"offset":0.1667,"color":"#e5c35c"},
{"offset":0.1667,"color":"#2d2dd2"},{"offset":0.1944,"color":"#2d2dd2"},{"offset":0.1944,"color":"#e5c35c"},{"offset":0.2222,"color":"#e5c35c"},
{"offset":0.2222,"color":"#2d2dd2"},{"offset":0.25,"color":"#2d2dd2"},{"offset":0.25,"color":"#e5c35c"},{"offset":0.2778,"color":"#e5c35c"},
{"offset":0.2778,"color":"#2d2dd2"},{"offset":0.3056,"color":"#2d2dd2"},{"offset":0.3056,"color":"#e5c35c"},{"offset":0.3333,"color":"#e5c35c"},
{"offset":0.3333,"color":"#2d2dd2"},{"offset":0.3611,"color":"#2d2dd2"},{"offset":0.3611,"color":"#e5c35c"},{"offset":0.3889,"color":"#e5c35c"},
{"offset":0.3889,"color":"#2d2dd2"},{"offset":0.4167,"color":"#2d2dd2"},{"offset":0.4167,"color":"#e5c35c"},{"offset":0.4444,"color":"#e5c35c"},
{"offset":0.4444,"color":"#2d2dd2"},{"offset":0.4722,"color":"#2d2dd2"},{"offset":0.4722,"color":"#e5c35c"},{"offset":0.5,"color":"#e5c35c"},
{"offset":0.5,"color":"#2d2dd2"},{"offset":0.5278,"color":"#2d2dd2"},{"offset":0.5278,"color":"#e5c35c"},{"offset":0.5556,"color":"#e5c35c"},
{"offset":0.5556,"color":"#2d2dd2"},{"offset":0.5833,"color":"#2d2dd2"},{"offset":0.5833,"color":"#e5c35c"},{"offset":0.6111,"color":"#e5c35c"},
{"offset":0.6111,"color":"#2d2dd2"},{"offset":0.6389,"color":"#2d2dd2"},{"offset":0.6389,"color":"#e5c35c"},{"offset":0.6667,"color":"#e5c35c"},
{"offset":0.6667,"color":"#2d2dd2"},{"offset":0.6944,"color":"#2d2dd2"},{"offset":0.6944,"color":"#e5c35c"},{"offset":0.7222,"color":"#e5c35c"},
{"offset":0.7222,"color":"#2d2dd2"},{"offset":0.75,"color":"#2d2dd2"},{"offset":0.75,"color":"#e5c35c"},{"offset":0.7778,"color":"#e5c35c"},
{"offset":0.7778,"color":"#2d2dd2"},{"offset":0.8056,"color":"#2d2dd2"},{"offset":0.8056,"color":"#e5c35c"},{"offset":0.8333,"color":"#e5c35c"},
{"offset":0.8333,"color":"#2d2dd2"},{"offset":0.8611,"color":"#2d2dd2"},{"offset":0.8611,"color":"#e5c35c"},{"offset":0.8889,"color":"#e5c35c"},
{"offset":0.8889,"color":"#2d2dd2"},{"offset":0.9167,"color":"#2d2dd2"},{"offset":0.9167,"color":"#e5c35c"},{"offset":0.9444,"color":"#e5c35c"},
{"offset":0.9444,"color":"#2d2dd2"},{"offset":0.9722,"color":"#2d2dd2"},{"offset":0.9722,"color":"#e5c35c"},{"offset":1,"color":"#e5c35c"}]}},
      {"test":"datum.s==='a' && datum.c==='EpiSC Specific'","value":{"gradient":"linear","x1":0,"y1":1,"x2":1.204,"y2":0.56,"stops":[
{"offset":0,"color":"#2d2dd2"},{"offset":0.1667,"color":"#2d2dd2"},{"offset":0.1667,"color":"#e5c35c"},{"offset":0.3333,"color":"#e5c35c"},
{"offset":0.3333,"color":"#2d2dd2"},{"offset":0.5,"color":"#2d2dd2"},{"offset":0.5,"color":"#e5c35c"},{"offset":0.6667,"color":"#e5c35c"},
{"offset":0.6667,"color":"#2d2dd2"},{"offset":0.8333,"color":"#2d2dd2"},{"offset":0.8333,"color":"#e5c35c"},{"offset":1,"color":"#e5c35c"}]}},
      {"test":"datum.s==='a' && datum.c==='ES/EpiSC Shared'","value":{"gradient":"linear","x1":0,"y1":1,"x2":0.711,"y2":-0.175,"stops":[
{"offset":0,"color":"#2d2dd2"},{"offset":0.1,"color":"#2d2dd2"},{"offset":0.1,"color":"#e5c35c"},{"offset":0.2,"color":"#e5c35c"},
{"offset":0.2,"color":"#2d2dd2"},{"offset":0.3,"color":"#2d2dd2"},{"offset":0.3,"color":"#e5c35c"},{"offset":0.4,"color":"#e5c35c"},
{"offset":0.4,"color":"#2d2dd2"},{"offset":0.5,"color":"#2d2dd2"},{"offset":0.5,"color":"#e5c35c"},{"offset":0.6,"color":"#e5c35c"},
{"offset":0.6,"color":"#2d2dd2"},{"offset":0.7,"color":"#2d2dd2"},{"offset":0.7,"color":"#e5c35c"},{"offset":0.8,"color":"#e5c35c"},
{"offset":0.8,"color":"#2d2dd2"},{"offset":0.9,"color":"#2d2dd2"},{"offset":0.9,"color":"#e5c35c"},{"offset":1,"color":"#e5c35c"}]}},
      {"test":"datum.s==='a' && datum.c==='Other'","value":{"gradient":"linear","x1":0,"y1":1,"x2":0.2935,"y2":-0.1763,"stops":[
{"offset":0,"color":"#2d2dd2"},{"offset":0.05,"color":"#2d2dd2"},{"offset":0.05,"color":"#e5c35c"},{"offset":0.1,"color":"#e5c35c"},
{"offset":0.1,"color":"#2d2dd2"},{"offset":0.15,"color":"#2d2dd2"},{"offset":0.15,"color":"#e5c35c"},{"offset":0.2,"color":"#e5c35c"},
{"offset":0.2,"color":"#2d2dd2"},{"offset":0.25,"color":"#2d2dd2"},{"offset":0.25,"color":"#e5c35c"},{"offset":0.3,"color":"#e5c35c"},
{"offset":0.3,"color":"#2d2dd2"},{"offset":0.35,"color":"#2d2dd2"},{"offset":0.35,"color":"#e5c35c"},{"offset":0.4,"color":"#e5c35c"},
{"offset":0.4,"color":"#2d2dd2"},{"offset":0.45,"color":"#2d2dd2"},{"offset":0.45,"color":"#e5c35c"},{"offset":0.5,"color":"#e5c35c"},
{"offset":0.5,"color":"#2d2dd2"},{"offset":0.55,"color":"#2d2dd2"},{"offset":0.55,"color":"#e5c35c"},{"offset":0.6,"color":"#e5c35c"},
{"offset":0.6,"color":"#2d2dd2"},{"offset":0.65,"color":"#2d2dd2"},{"offset":0.65,"color":"#e5c35c"},{"offset":0.7,"color":"#e5c35c"},
{"offset":0.7,"color":"#2d2dd2"},{"offset":0.75,"color":"#2d2dd2"},{"offset":0.75,"color":"#e5c35c"},{"offset":0.8,"color":"#e5c35c"},
{"offset":0.8,"color":"#2d2dd2"},{"offset":0.85,"color":"#2d2dd2"},{"offset":0.85,"color":"#e5c35c"},{"offset":0.9,"color":"#e5c35c"},
{"offset":0.9,"color":"#2d2dd2"},{"offset":0.95,"color":"#2d2dd2"},{"offset":0.95,"color":"#e5c35c"},{"offset":1,"color":"#e5c35c"}]}},
      {"test":"datum.s==='b' && datum.c==='ESC Specific'","value":{"gradient":"linear","x1":0,"y1":0,"x2":0.9226,"y2":1.067,"stops":[
{"offset":0,"color":"#ff2a00"},{"offset":0.125,"color":"#ff2a00"},{"offset":0.125,"color":"#ffa31f"},{"offset":0.25,"color":"#ffa31f"},
{"offset":0.25,"color":"#ff2a00"},{"offset":0.375,"color":"#ff2a00"},{"offset":0.375,"color":"#ffa31f"},{"offset":0.5,"color":"#ffa31f"},
{"offset":0.5,"color":"#ff2a00"},{"offset":0.625,"color":"#ff2a00"},{"offset":0.625,"color":"#ffa31f"},{"offset":0.75,"color":"#ffa31f"},
{"offset":0.75,"color":"#ff2a00"},{"offset":0.875,"color":"#ff2a00"},{"offset":0.875,"color":"#ffa31f"},{"offset":1,"color":"#ffa31f"}]}},
      {"test":"datum.s==='b' && datum.c==='EpiSC Specific'","value":{"gradient":"linear","x1":0,"y1":0,"x2":0.2796,"y2":1.172,"stops":[
{"offset":0,"color":"#ff2a00"},{"offset":0.05,"color":"#ff2a00"},{"offset":0.05,"color":"#ffa31f"},{"offset":0.1,"color":"#ffa31f"},
{"offset":0.1,"color":"#ff2a00"},{"offset":0.15,"color":"#ff2a00"},{"offset":0.15,"color":"#ffa31f"},{"offset":0.2,"color":"#ffa31f"},
{"offset":0.2,"color":"#ff2a00"},{"offset":0.25,"color":"#ff2a00"},{"offset":0.25,"color":"#ffa31f"},{"offset":0.3,"color":"#ffa31f"},
{"offset":0.3,"color":"#ff2a00"},{"offset":0.35,"color":"#ff2a00"},{"offset":0.35,"color":"#ffa31f"},{"offset":0.4,"color":"#ffa31f"},
{"offset":0.4,"color":"#ff2a00"},{"offset":0.45,"color":"#ff2a00"},{"offset":0.45,"color":"#ffa31f"},{"offset":0.5,"color":"#ffa31f"},
{"offset":0.5,"color":"#ff2a00"},{"offset":0.55,"color":"#ff2a00"},{"offset":0.55,"color":"#ffa31f"},{"offset":0.6,"color":"#ffa31f"},
{"offset":0.6,"color":"#ff2a00"},{"offset":0.65,"color":"#ff2a00"},{"offset":0.65,"color":"#ffa31f"},{"offset":0.7,"color":"#ffa31f"},
{"offset":0.7,"color":"#ff2a00"},{"offset":0.75,"color":"#ff2a00"},{"offset":0.75,"color":"#ffa31f"},{"offset":0.8,"color":"#ffa31f"},
{"offset":0.8,"color":"#ff2a00"},{"offset":0.85,"color":"#ff2a00"},{"offset":0.85,"color":"#ffa31f"},{"offset":0.9,"color":"#ffa31f"},
{"offset":0.9,"color":"#ff2a00"},{"offset":0.95,"color":"#ff2a00"},{"offset":0.95,"color":"#ffa31f"},{"offset":1,"color":"#ffa31f"}]}},
      {"test":"datum.s==='b' && datum.c==='ES/EpiSC Shared'","value":{"gradient":"linear","x1":0,"y1":0,"x2":0.3321,"y2":1.187,"stops":[
{"offset":0,"color":"#ff2a00"},{"offset":0.0556,"color":"#ff2a00"},{"offset":0.0556,"color":"#ffa31f"},{"offset":0.1111,"color":"#ffa31f"},
{"offset":0.1111,"color":"#ff2a00"},{"offset":0.1667,"color":"#ff2a00"},{"offset":0.1667,"color":"#ffa31f"},{"offset":0.2222,"color":"#ffa31f"},
{"offset":0.2222,"color":"#ff2a00"},{"offset":0.2778,"color":"#ff2a00"},{"offset":0.2778,"color":"#ffa31f"},{"offset":0.3333,"color":"#ffa31f"},
{"offset":0.3333,"color":"#ff2a00"},{"offset":0.3889,"color":"#ff2a00"},{"offset":0.3889,"color":"#ffa31f"},{"offset":0.4444,"color":"#ffa31f"},
{"offset":0.4444,"color":"#ff2a00"},{"offset":0.5,"color":"#ff2a00"},{"offset":0.5,"color":"#ffa31f"},{"offset":0.5556,"color":"#ffa31f"},
{"offset":0.5556,"color":"#ff2a00"},{"offset":0.6111,"color":"#ff2a00"},{"offset":0.6111,"color":"#ffa31f"},{"offset":0.6667,"color":"#ffa31f"},
{"offset":0.6667,"color":"#ff2a00"},{"offset":0.7222,"color":"#ff2a00"},{"offset":0.7222,"color":"#ffa31f"},{"offset":0.7778,"color":"#ffa31f"},
{"offset":0.7778,"color":"#ff2a00"},{"offset":0.8333,"color":"#ff2a00"},{"offset":0.8333,"color":"#ffa31f"},{"offset":0.8889,"color":"#ffa31f"},
{"offset":0.8889,"color":"#ff2a00"},{"offset":0.9444,"color":"#ff2a00"},{"offset":0.9444,"color":"#ffa31f"},{"offset":1,"color":"#ffa31f"}]}}
     ],
     "value":{"gradient":"linear","x1":0,"y1":0,"x2":0.2054,"y2":1.143,"stops":[
{"offset":0,"color":"#ff2a00"},{"offset":0.0385,"color":"#ff2a00"},{"offset":0.0385,"color":"#ffa31f"},{"offset":0.0769,"color":"#ffa31f"},
{"offset":0.0769,"color":"#ff2a00"},{"offset":0.1154,"color":"#ff2a00"},{"offset":0.1154,"color":"#ffa31f"},{"offset":0.1538,"color":"#ffa31f"},
{"offset":0.1538,"color":"#ff2a00"},{"offset":0.1923,"color":"#ff2a00"},{"offset":0.1923,"color":"#ffa31f"},{"offset":0.2308,"color":"#ffa31f"},
{"offset":0.2308,"color":"#ff2a00"},{"offset":0.2692,"color":"#ff2a00"},{"offset":0.2692,"color":"#ffa31f"},{"offset":0.3077,"color":"#ffa31f"},
{"offset":0.3077,"color":"#ff2a00"},{"offset":0.3462,"color":"#ff2a00"},{"offset":0.3462,"color":"#ffa31f"},{"offset":0.3846,"color":"#ffa31f"},
{"offset":0.3846,"color":"#ff2a00"},{"offset":0.4231,"color":"#ff2a00"},{"offset":0.4231,"color":"#ffa31f"},{"offset":0.4615,"color":"#ffa31f"},
{"offset":0.4615,"color":"#ff2a00"},{"offset":0.5,"color":"#ff2a00"},{"offset":0.5,"color":"#ffa31f"},{"offset":0.5385,"color":"#ffa31f"},
{"offset":0.5385,"color":"#ff2a00"},{"offset":0.5769,"color":"#ff2a00"},{"offset":0.5769,"color":"#ffa31f"},{"offset":0.6154,"color":"#ffa31f"},
{"offset":0.6154,"color":"#ff2a00"},{"offset":0.6538,"color":"#ff2a00"},{"offset":0.6538,"color":"#ffa31f"},{"offset":0.6923,"color":"#ffa31f"},
{"offset":0.6923,"color":"#ff2a00"},{"offset":0.7308,"color":"#ff2a00"},{"offset":0.7308,"color":"#ffa31f"},{"offset":0.7692,"color":"#ffa31f"},
{"offset":0.7692,"color":"#ff2a00"},{"offset":0.8077,"color":"#ff2a00"},{"offset":0.8077,"color":"#ffa31f"},{"offset":0.8462,"color":"#ffa31f"},
{"offset":0.8462,"color":"#ff2a00"},{"offset":0.8846,"color":"#ff2a00"},{"offset":0.8846,"color":"#ffa31f"},{"offset":0.9231,"color":"#ffa31f"},
{"offset":0.9231,"color":"#ff2a00"},{"offset":0.9615,"color":"#ff2a00"},{"offset":0.9615,"color":"#ffa31f"},{"offset":1,"color":"#ffa31f"}]}}
    }},
   {"data":{"values":[{}]},"layer":[
    {"mark":{"type":"rule","stroke":"#111","strokeWidth":3},"encoding":{"x":{"datum":0.15,"type":"quantitative","scale":{"domain":[0,1],"nice":false},"axis":null},"x2":{"datum":0.8},"y":{"datum":1.1812,"type":"quantitative","scale":{"domain":[0,1],"nice":false},"axis":null}}},
    {"mark":{"type":"text","font":"Lato","fontWeight":"bold","fontSize":15,"fill":"#111","lineBreak":"\n","lineHeight":16},"encoding":{"x":{"datum":0.478},"y":{"datum":1.3696},"text":{"value":"Equivalent\nExpression"}}}
   ]}
  ],"resolve":{"scale":{"x":"independent","y":"independent"}}}
 ],"spacing":0,"bounds":"flush"}
]
}
